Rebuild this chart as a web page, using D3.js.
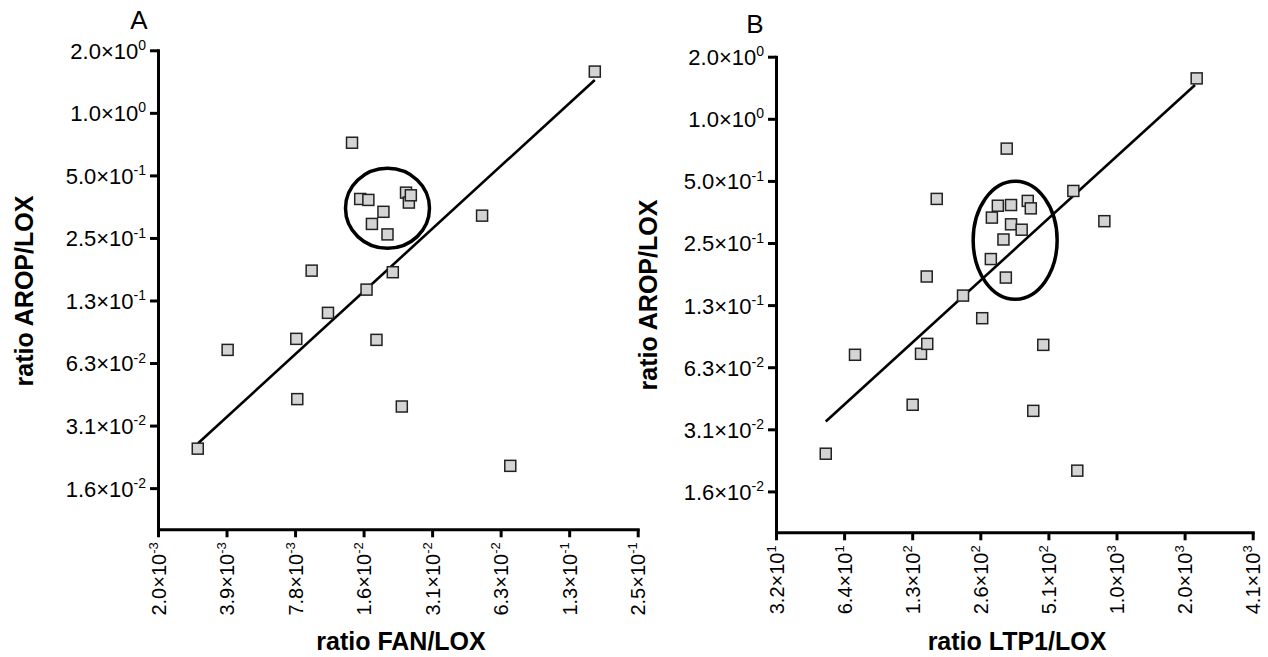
<!DOCTYPE html>
<html>
<head>
<meta charset="utf-8">
<script src="https://cdn.jsdelivr.net/npm/d3@7"></script>
<style>
  body { margin: 0; background: #fff; }
  svg { display: block; }
  text { font-family: Arial, "Liberation Sans", sans-serif; fill: #000; }
</style>
</head>
<body>
<div id="chart"></div>
<script>
// tick values (log2 axes)
var aXTicks = [0.001953125, 0.00390625, 0.0078125, 0.015625, 0.03125, 0.0625, 0.125, 0.25];
var bXTicks = [32, 64, 128, 256, 512, 1024, 2048, 4096];
var yTicks = [2, 1, 0.5, 0.25, 0.125, 0.0625, 0.03125, 0.015625];

// panel A: FAN/LOX vs AROP/LOX
var aFan  = [0.00292, 0.00395, 0.00791, 0.00799, 0.00924, 0.0109, 0.0139, 0.0151, 0.0164, 0.0161, 0.0170,
             0.0178, 0.0191, 0.0199, 0.0210, 0.0230, 0.0240, 0.0247, 0.0252, 0.0518, 0.0689, 0.162];
var aArop = [0.0242, 0.0723, 0.0817, 0.0419, 0.174, 0.109, 0.718, 0.385, 0.381, 0.141, 0.292,
             0.0808, 0.334, 0.260, 0.171, 0.0386, 0.413, 0.370, 0.401, 0.320, 0.0200, 1.58];
var aFitX = [0.00293, 0.162];
var aFitY = [0.0257, 1.44];
var aCircle = [0.0199, 0.347];

// panel B: LTP1/LOX vs AROP/LOX
var bLtp  = [53.1, 71.5, 128.6, 140, 149.2, 148.4, 164.3, 214.7, 261, 285, 288, 306, 324,
             332, 335, 350, 350, 390, 415, 428, 439, 486, 660, 687, 905, 2316];
var bArop = [0.0238, 0.0718, 0.0411, 0.0726, 0.0811, 0.172, 0.409, 0.139, 0.108, 0.209, 0.332, 0.379, 0.260,
             0.170, 0.717, 0.382, 0.308, 0.290, 0.400, 0.368, 0.0384, 0.0802, 0.447, 0.0197, 0.319, 1.57];
var bFitX = [53.1, 2277];
var bFitY = [0.0341, 1.459];
var bCircle = [365, 0.258];

var svg = d3.select("#chart")
  .append("svg")
    .attr("width", 1268)
    .attr("height", 657);

// "2.0x10^-3" style label split into mantissa + exponent
function sci(v) {
  var e = Math.floor(Math.log10(v) + 1e-9);
  var m = e < 0 ? v * Math.pow(10, -e) : v / Math.pow(10, e);
  return [m.toFixed(1) + "\u00d710", String(e)];
}

function writeSci(sel, fs, sfs) {
  sel.each(function(d) {
    var parts = sci(d);
    var t = d3.select(this).text(null).style("font-size", fs + "px");
    t.append("tspan").style("font-size", fs + "px").text(parts[0]);
    t.append("tspan").style("font-size", sfs + "px").attr("dy", -fs * 0.4).text(parts[1]);
  });
}

function drawPanel(p) {
  var x = d3.scaleLog().base(2)
    .domain(p.xDomain)
    .range([p.left, p.right]);
  var y = d3.scaleLog().base(2)
    .domain([0.0099, 2])
    .range([p.bottom, p.top]);

  var g = svg.append("g");

  // y axis
  var yAxis = g.append("g")
    .attr("transform", "translate(" + p.left + ",0)")
    .call(d3.axisLeft(y).tickValues(yTicks).tickSize(8).tickSizeOuter(0));
  yAxis.selectAll(".tick text")
    .attr("x", -12)
    .attr("dy", "0.36em")
    .call(writeSci, 22, 14);

  // x axis
  var xAxis = g.append("g")
    .attr("transform", "translate(0," + p.bottom + ")")
    .call(d3.axisBottom(x).tickValues(p.xTicks).tickSize(8).tickSizeOuter(0));
  xAxis.selectAll(".tick text")
    .attr("transform", "rotate(-90)")
    .attr("x", -13)
    .attr("y", 0)
    .attr("dy", "0.36em")
    .style("text-anchor", "end")
    .call(writeSci, 20, 13);

  g.selectAll(".domain").attr("stroke", "#000").attr("stroke-width", 3).attr("stroke-linecap", "square");
  g.selectAll(".tick line").attr("stroke", "#000").attr("stroke-width", 3);

  // regression line
  g.append("line")
    .attr("x1", x(p.fitX[0])).attr("y1", y(p.fitY[0]))
    .attr("x2", x(p.fitX[1])).attr("y2", y(p.fitY[1]))
    .attr("stroke", "#000")
    .attr("stroke-width", 2.6);

  // points
  g.selectAll("rect.pt")
    .data(p.xs)
    .enter()
    .append("rect")
      .attr("class", "pt")
      .attr("x", function(d) { return x(d) - 5.5; })
      .attr("y", function(d, i) { return y(p.ys[i]) - 5.5; })
      .attr("width", 11)
      .attr("height", 11)
      .attr("fill", "#d4d4d4")
      .attr("stroke", "#222")
      .attr("stroke-width", 1.5);

  // highlighted group
  g.append("ellipse")
    .attr("cx", x(p.circle[0]))
    .attr("cy", y(p.circle[1]))
    .attr("rx", p.rx)
    .attr("ry", p.ry)
    .attr("fill", "none")
    .attr("stroke", "#000")
    .attr("stroke-width", 3.5);

  // labels
  g.append("text")
    .attr("x", p.titleX).attr("y", p.titleY)
    .attr("text-anchor", "middle")
    .style("font-size", "26px")
    .text(p.title);

  g.append("text")
    .attr("transform", "translate(" + p.yLabelX + "," + p.yLabelY + ") rotate(-90)")
    .attr("text-anchor", "middle")
    .style("font-size", "25px")
    .style("font-weight", "bold")
    .text("ratio AROP/LOX");

  g.append("text")
    .attr("x", p.xLabelX).attr("y", 650)
    .attr("text-anchor", "middle")
    .style("font-size", "25px")
    .style("font-weight", "bold")
    .text(p.xLabel);
}

drawPanel({
  title: "A", titleX: 139, titleY: 29,
  left: 158, right: 637.7, top: 50.3, bottom: 529.3,
  xDomain: [0.001953125, 0.25], xTicks: aXTicks,
  xs: aFan, ys: aArop, fitX: aFitX, fitY: aFitY,
  circle: aCircle, rx: 42, ry: 40,
  yLabelX: 33, yLabelY: 291,
  xLabel: "ratio FAN/LOX", xLabelX: 401
});

drawPanel({
  title: "B", titleX: 755, titleY: 33,
  left: 776, right: 1252.7, top: 56.7, bottom: 532.3,
  xDomain: [32, 4096], xTicks: bXTicks,
  xs: bLtp, ys: bArop, fitX: bFitX, fitY: bFitY,
  circle: bCircle, rx: 42, ry: 59,
  yLabelX: 657, yLabelY: 295,
  xLabel: "ratio LTP1/LOX", xLabelX: 1017
});
</script>
</body>
</html>
